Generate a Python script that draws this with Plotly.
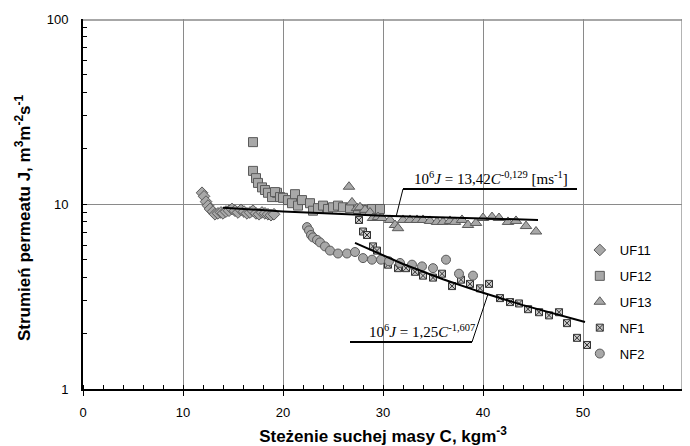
import plotly.graph_objects as go

# ---- data ----
uf11_c = [11.9, 12.1, 12.3, 12.5, 12.7, 13.0, 13.2, 13.5, 13.8, 14.0, 14.3, 14.6, 14.9, 15.2,
          15.5, 15.8, 16.1, 16.4, 16.7, 17.0, 17.3, 17.6, 17.9, 18.2, 18.5, 18.8, 19.1]
uf11_j = [11.5, 11.0, 10.3, 9.8, 9.4, 9.1, 8.8, 8.9, 9.0, 8.9, 9.1, 9.2, 9.4, 9.2,
          9.0, 9.3, 9.1, 8.9, 9.0, 9.2, 8.9, 8.8, 9.0, 8.9, 8.8, 8.7, 8.8]

uf12_c = [17.0, 17.0, 17.3, 17.5, 17.9, 18.2, 18.5, 18.9, 19.4, 19.2, 19.7, 20.0, 20.5, 20.9,
          21.2, 21.5, 21.9, 22.7, 23.0, 23.5, 24.0, 24.5, 25.0, 25.5, 26.0, 26.7, 27.5,
          28.2, 28.9, 29.7]
uf12_j = [21.6, 15.1, 13.8, 13.0, 12.3, 11.9, 11.5, 10.9, 11.5, 11.6, 10.9, 10.8, 10.5, 10.1,
          11.3, 9.8, 10.5, 10.1, 9.2, 9.5, 9.8, 9.4, 9.6, 9.8, 9.6, 9.5, 9.4,
          9.3, 9.4, 9.4]

uf13_c = [26.6, 26.9, 27.4, 27.7, 28.2, 28.7, 29.0, 29.5, 29.9, 30.7, 31.2, 31.5, 32.0, 32.7,
          33.4, 34.0, 34.7, 35.4, 36.0, 36.7, 37.2, 37.9, 38.5, 39.3, 40.0, 40.9, 41.6,
          42.5, 43.3, 44.3, 45.3]
uf13_j = [12.4, 10.2, 9.5, 9.6, 9.3, 9.0, 8.4, 8.5, 8.4, 8.2, 7.7, 7.4, 8.2, 8.2,
          8.2, 8.2, 8.1, 8.0, 8.0, 8.1, 8.0, 8.2, 7.7, 7.9, 8.4, 8.5, 8.4,
          8.0, 8.1, 7.6, 7.1]

nf1_c = [27.6, 28.0, 28.4, 29.0, 29.4, 30.5, 31.5, 32.3, 33.2, 34.0, 35.0, 35.9, 36.9, 37.8,
         38.7, 39.7, 40.6, 41.7, 42.7, 43.6, 44.5, 45.6, 46.6, 47.6, 48.4, 49.4, 50.4]
nf1_j = [8.2, 7.1, 6.8, 5.9, 5.6, 4.7, 4.5, 4.5, 4.3, 4.1, 4.0, 4.2, 3.6, 3.9,
         3.7, 3.5, 3.7, 3.1, 2.95, 2.9, 2.7, 2.6, 2.5, 2.6, 2.27, 1.89, 1.73]

nf2_c = [22.4, 22.6, 22.8, 23.0, 23.4, 23.7, 24.2, 24.7, 25.5, 26.4, 27.2, 28.0, 28.9, 29.8,
         30.6, 31.7, 32.9, 33.9, 35.0, 36.3, 37.6, 39.0]
nf2_j = [7.5, 7.2, 6.8, 6.6, 6.4, 6.2, 5.9, 5.6, 5.4, 5.4, 5.5, 5.1, 5.0, 5.0,
         4.9, 4.8, 4.7, 4.6, 4.5, 5.0, 4.2, 4.1]

# trend lines
fit_uf_c = [14.0, 20.0, 30.0, 40.0, 45.5]
fit_uf_j = [9.55, 9.12, 8.65, 8.34, 8.20]
fit_nf_c = [27.2, 32.0, 36.0, 40.0, 44.0, 48.0, 50.2]
fit_nf_j = [6.16, 4.74, 3.92, 3.31, 2.84, 2.47, 2.30]

x_ticks = [0, 10, 20, 30, 40, 50, 60]
y_ticks = [1, 10, 100]
y_ticklabels = ["1", "10", "100"]
y_minor = [2, 3, 4, 5, 6, 7, 8, 9, 20, 30, 40, 50, 60, 70, 80, 90]

FILL = "#a8a8a8"
EDGE = "#5a5a5a"
GRID = "#8a8a8a"

fig = go.Figure()

def add_series(name, xs, ys, symbol, size, fill=FILL, edge=EDGE):
    fig.add_trace(go.Scatter(
        x=xs, y=ys, mode="markers", name=name, legendgroup=name,
        marker=dict(symbol=symbol, size=size, color=fill,
                    line=dict(color=edge, width=1)),
    ))

add_series("UF11", uf11_c, uf11_j, "diamond", 9)
add_series("UF12", uf12_c, uf12_j, "square", 9)
add_series("UF13", uf13_c, uf13_j, "triangle-up", 10)
add_series("NF1", nf1_c, nf1_j, "square-x", 7, fill="#c8c8c8", edge="#333333")
add_series("NF2", nf2_c, nf2_j, "circle", 9)

for xs, ys in [(fit_uf_c, fit_uf_j), (fit_nf_c, fit_nf_j)]:
    fig.add_trace(go.Scatter(x=xs, y=ys, mode="lines", showlegend=False,
                             line=dict(color="black", width=2), hoverinfo="skip"))

# annotation lines (x in data, y in paper)
def yp(px):
    return (389 - px) / 370.0

shapes = [
    # outer grid lines at the range ends (x = 60, J = 100)
    dict(type="line", xref="paper", yref="paper", x0=0.9985, x1=0.9985, y0=0, y1=1,
         line=dict(color=GRID, width=1.5), layer="above"),
    dict(type="line", xref="paper", yref="paper", x0=0, x1=1, y0=0.997, y1=0.997,
         line=dict(color=GRID, width=1.5), layer="above"),
    dict(type="line", xref="x", yref="paper", x0=32.0, x1=49.4, y0=yp(189), y1=yp(189),
         line=dict(color="black", width=2)),
    dict(type="line", xref="x", yref="paper", x0=32.0, x1=31.3, y0=yp(189), y1=yp(217),
         line=dict(color="black", width=1)),
    dict(type="line", xref="x", yref="paper", x0=26.7, x1=38.9, y0=yp(342), y1=yp(342),
         line=dict(color="black", width=2)),
    dict(type="line", xref="x", yref="paper", x0=38.9, x1=40.5, y0=yp(342), y1=yp(294),
         line=dict(color="black", width=1)),
]

serif = dict(family="Liberation Serif, Times New Roman, serif", size=15, color="black")
annotations = [
    dict(xref="x", yref="paper", x=40.8, y=yp(189), yanchor="bottom", xanchor="center",
         showarrow=False, font=serif,
         text="10<sup>6</sup><i>J</i> = 13,42<i>C</i><sup>-0,129</sup> [ms<sup>-1</sup>]"),
    dict(xref="x", yref="paper", x=33.9, y=yp(342), yanchor="bottom", xanchor="center",
         showarrow=False, font=serif,
         text="10<sup>6</sup><i>J</i> = 1,25<i>C</i><sup>-1,607</sup>"),
    # y-axis title
    dict(xref="paper", yref="paper", x=(23 - 83) / 600.0, y=yp(218),
         xanchor="center", yanchor="middle", textangle=-90, showarrow=False,
         font=dict(family="Liberation Sans, Arial, sans-serif", size=17, color="black"),
         text="<b>Strumień permeatu J, m<sup>3</sup>m<sup>-2</sup>s<sup>-1</sup></b>"),
]

# the page body adds an 8px offset, so the figure is 8px smaller than the window
fig.update_layout(
    width=682, height=438,
    margin=dict(l=75, r=7, t=11, b=57, autoexpand=False),
    paper_bgcolor="white", plot_bgcolor="white",
    font=dict(family="Liberation Sans, Arial, sans-serif", size=13, color="black"),
    shapes=shapes, annotations=annotations,
    legend=dict(x=0.828, y=yp(235), xanchor="left", yanchor="top",
                bgcolor="rgba(0,0,0,0)", font=dict(size=13),
                tracegroupgap=6, itemwidth=30),
    showlegend=True,
)

fig.update_xaxes(
    range=[0, 60], tickvals=x_ticks, automargin=False,
    showgrid=True, gridcolor=GRID, gridwidth=1,
    showline=True, linecolor="black", linewidth=2,
    ticks="outside", ticklen=5, tickcolor="black", zeroline=False,
    ticklabelstandoff=5,
    minor=dict(dtick=2, ticks="inside", ticklen=4, tickcolor="black", showgrid=False),
    title=dict(text="<b>Steżenie suchej masy C, kgm<sup>-3</sup></b>",
               font=dict(size=17), standoff=16),
)
fig.update_yaxes(
    type="log", range=[0, 2], tickvals=y_ticks, ticktext=y_ticklabels, automargin=False,
    showgrid=True, gridcolor=GRID, gridwidth=1,
    showline=True, linecolor="black", linewidth=2,
    ticks="inside", ticklen=4, tickcolor="black", zeroline=False,
    ticklabelstandoff=10,
    minor=dict(tickvals=y_minor, ticks="inside", ticklen=4, tickcolor="black", showgrid=False),
)

fig.write_html("out.html")
